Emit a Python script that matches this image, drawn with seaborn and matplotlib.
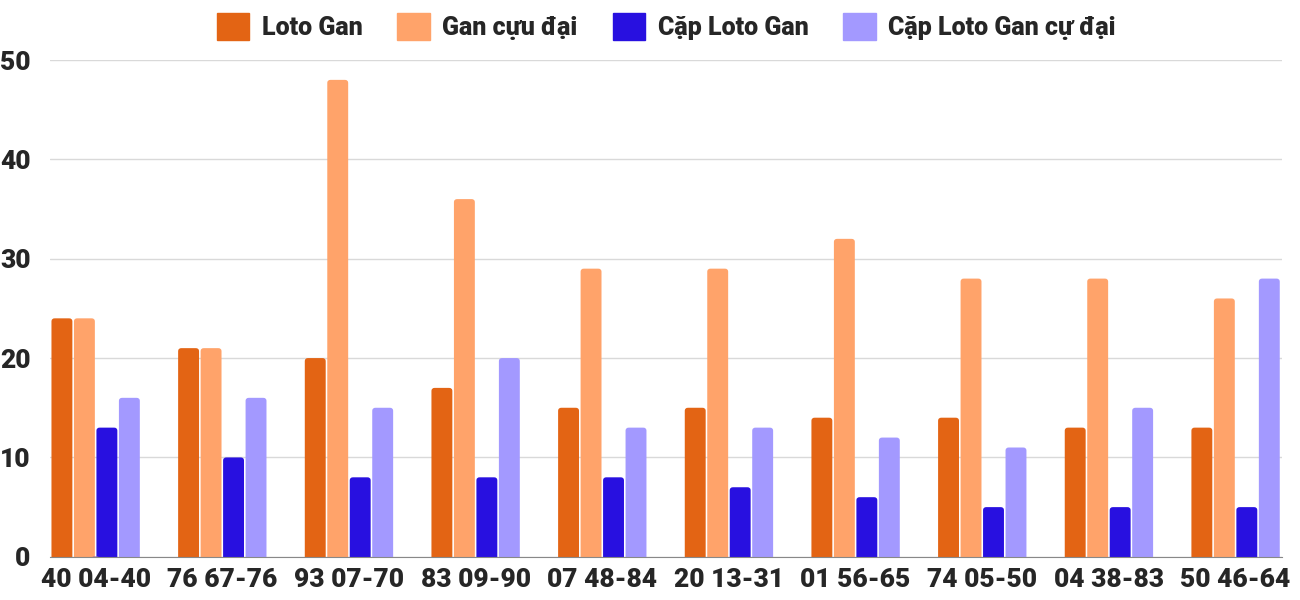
import pandas as pd
import matplotlib.pyplot as plt
import seaborn as sns
from matplotlib.patches import FancyBboxPatch

categories = ["40 04-40", "76 67-76", "93 07-70", "83 09-90", "07 48-84",
              "20 13-31", "01 56-65", "74 05-50", "04 38-83", "50 46-64"]
loto_gan = [24, 21, 20, 17, 15, 15, 14, 14, 13, 13]
gan_cuc_dai = [24, 21, 48, 36, 29, 29, 32, 28, 28, 26]
cap_loto_gan = [13, 10, 8, 8, 8, 7, 6, 5, 5, 5]
cap_cuc_dai = [16, 16, 15, 20, 13, 13, 12, 11, 15, 28]

series = ["Loto Gan", "Gan cựu đại", "Cặp Loto Gan", "Cặp Loto Gan cự đại"]
colors = ["#E36414", "#FFA36A", "#2810E0", "#A399FF"]

df = pd.DataFrame({"Cặp": categories, series[0]: loto_gan, series[1]: gan_cuc_dai,
                   series[2]: cap_loto_gan, series[3]: cap_cuc_dai})
long_df = df.melt(id_vars="Cặp", var_name="Loại", value_name="Giá trị")

sns.set_style("white")
plt.rcParams['font.family'] = ['Roboto', 'DejaVu Sans']
plt.rcParams['font.weight'] = 'black'

fig = plt.figure(figsize=(13, 6), dpi=100)
ax = fig.add_axes([0.0385, 0.072, 0.948, 0.828])
sns.barplot(data=long_df, x="Cặp", y="Giá trị", hue="Loại", hue_order=series,
            palette=colors, width=0.71, gap=0.07, saturation=1, ax=ax)

ax.set_ylim(0, 50)
ax.set_yticks([0, 10, 20, 30, 40, 50])
ax.set_xlim(-0.36, len(categories) - 0.63)

# rounded tops like the original
for p in list(ax.patches):
    x, w, h = p.get_x(), p.get_width(), p.get_height()
    fb = FancyBboxPatch((x, -0.5), w, h + 0.5,
                        boxstyle="round,pad=0,rounding_size=0.025",
                        mutation_aspect=12.7, facecolor=p.get_facecolor(),
                        edgecolor="none", zorder=p.get_zorder())
    p.remove()
    ax.add_patch(fb)

ax.yaxis.grid(True, color="#d9d9d9", linewidth=1)
ax.set_axisbelow(True)
for s in ["top", "right", "left"]:
    ax.spines[s].set_visible(False)
ax.spines["bottom"].set_color("#888888")
ax.spines["bottom"].set_zorder(5)
ax.tick_params(axis="x", length=0, labelsize=19, pad=8)
ax.tick_params(axis="y", length=0, labelsize=19, pad=14)
ax.set_xlabel("")
ax.set_ylabel("")
for lbl in ax.get_xticklabels() + ax.get_yticklabels():
    lbl.set_fontweight("black")

handles = [plt.Rectangle((0, 0), 1, 1, color=c) for c in colors]
ax.legend(handles, series, loc="upper center", bbox_to_anchor=(0.5, 1.14), ncol=4,
          frameon=False, handlelength=1.3, handleheight=1.3, columnspacing=1.4,
          handletextpad=0.5, prop={"weight": "black", "size": 18})

fig.savefig("out.png", dpi=100)
